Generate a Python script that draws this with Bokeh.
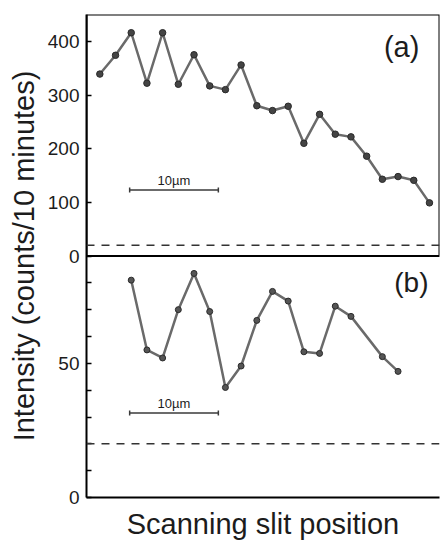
from bokeh.plotting import figure
from bokeh.models import (Range1d, LinearAxis, FixedTicker, Span, BoxAnnotation,
                          Label, ColumnDataSource)
from bokeh.embed import file_html
from bokeh.resources import INLINE
import math

# ---------------- data ----------------
A_POS = list(range(1, 23))
A_VALS = [339, 374, 416, 322, 416, 320, 375, 317, 310, 356, 280, 271,
          279, 210, 264, 227, 222, 186, 143, 148, 141, 99]
B_POS = [3, 4, 5, 6, 7, 8, 9, 10, 11, 12, 13, 14, 15, 16, 17, 19, 20]
B_VALS = [81, 55, 52, 70, 83.5, 69.3, 41, 49, 66, 76.8, 73.2, 54.3, 53.7,
          71.3, 67.5, 52.5, 47]
A_BACKGROUND = 20
B_BACKGROUND = 20
A_TICKS = [0, 100, 200, 300, 400]
B_TICKS = [0, 50]
B_MINOR = [10, 20, 30, 40, 60, 70, 80]
A_MAX = 450
B_MAX = 90
SCALE_X = [2.9, 8.55]
A_SCALE_Y = 123
B_SCALE_Y = 31.5
SCALE_TEXT = "10\u00b5m"
X_START, X_END = 0.15, 22.64

FONT = "Liberation Sans"
INK = "#1c1c1c"

# main y range: panel (a) in the top half, (0..A_MAX); bottom half mirrors it
y_main = Range1d(-A_MAX, A_MAX)
b_range = Range1d(0, 2 * B_MAX)


def b_to_main(v):
    # map a panel-(b) value to the main y coordinate (for the shared tick axis)
    return y_main.start + (v - b_range.start) * (y_main.end - y_main.start) / (b_range.end - b_range.start)


p = figure(width=442, height=542, x_range=Range1d(X_START, X_END), y_range=y_main,
           x_axis_type=None, y_axis_type=None, output_backend="svg",
           toolbar_location=None, min_border_left=86, min_border_right=3,
           min_border_top=14, min_border_bottom=44,
           background_fill_color="white", border_fill_color="white")
p.extra_y_ranges = {"b": b_range}
p.grid.visible = False
p.outline_line_color = None

# ---------------- axes ----------------
ticks = A_TICKS + [b_to_main(v) for v in B_TICKS]
overrides = {t: str(t) for t in A_TICKS}
overrides.update({b_to_main(v): str(v) for v in B_TICKS})
yaxis = LinearAxis(
    ticker=FixedTicker(ticks=ticks, minor_ticks=[b_to_main(v) for v in B_MINOR]),
    major_label_overrides=overrides,
    axis_label="Intensity (counts/10 minutes)",
    axis_label_text_font=FONT, axis_label_text_font_size="29px",
    axis_label_text_font_style="normal", axis_label_text_color=INK,
    axis_label_standoff=5,
    major_label_text_font=FONT, major_label_text_font_size="19px",
    major_label_text_color=INK, major_label_standoff=7,
    axis_line_color="black", axis_line_width=2,
    major_tick_in=5, major_tick_out=0, major_tick_line_width=1.5,
    minor_tick_in=5, minor_tick_out=0, minor_tick_line_width=1.5,
)
p.add_layout(yaxis, "left")

xaxis = LinearAxis(
    ticker=FixedTicker(ticks=[]),
    axis_label="Scanning slit position",
    axis_label_text_font=FONT, axis_label_text_font_size="29px",
    axis_label_text_font_style="normal", axis_label_text_color=INK,
    axis_label_standoff=10, major_label_standoff=0,
    major_tick_in=0, major_tick_out=0, minor_tick_in=0, minor_tick_out=0,
    axis_line_color="black", axis_line_width=2,
)
p.add_layout(xaxis, "below")

# frame of panel (a)
p.add_layout(BoxAnnotation(left=X_START, right=X_END, bottom=0, top=A_MAX,
                           fill_alpha=0, line_color="black", line_width=2,
                           line_alpha=1))

# background levels
p.add_layout(Span(location=A_BACKGROUND, dimension="width", line_color="#333333",
                  line_width=1.5, line_dash="8 7"))
p.add_layout(Span(location=B_BACKGROUND, dimension="width", y_range_name="b",
                  line_color="#333333", line_width=1.5, line_dash="8 7"))

# ---------------- data series ----------------
src_a = ColumnDataSource(dict(x=A_POS, y=A_VALS))
src_b = ColumnDataSource(dict(x=B_POS, y=B_VALS))
p.line("x", "y", source=src_a, line_color="#6a6a6a", line_width=2.5, line_join="round")
p.scatter("x", "y", source=src_a, size=6.5, fill_color="#444444", line_color="#2a2a2a")
p.line("x", "y", source=src_b, y_range_name="b", line_color="#6a6a6a", line_width=2.5,
       line_join="round")
p.scatter("x", "y", source=src_b, y_range_name="b", size=6, fill_color="#555555",
          line_color="#2a2a2a")

# ---------------- scale bars ----------------
for yv, rng in ((A_SCALE_Y, "default"), (B_SCALE_Y, "b")):
    p.line(SCALE_X, [yv, yv], y_range_name=rng, line_color="#3a3a3a", line_width=1.5)
    p.scatter(SCALE_X, [yv, yv], y_range_name=rng, marker="dash", angle=math.pi / 2,
              size=5, line_color="#3a3a3a", line_width=1.5)
    p.add_layout(Label(x=sum(SCALE_X) / 2, y=yv, y_range_name=rng, text=SCALE_TEXT,
                       text_font=FONT, text_font_size="13px", text_color=INK,
                       text_align="center", text_baseline="bottom", y_offset=2))

# ---------------- panel labels ----------------
p.add_layout(Label(x=21.36, y=390, text="(a)", text_font=FONT, text_font_size="29px",
                   text_color=INK, text_align="right", text_baseline="middle"))
p.add_layout(Label(x=21.94, y=80, y_range_name="b", text="(b)", text_font=FONT,
                   text_font_size="28px", text_color=INK, text_align="right",
                   text_baseline="middle"))

open("out.html", "w").write(file_html(p, INLINE))
